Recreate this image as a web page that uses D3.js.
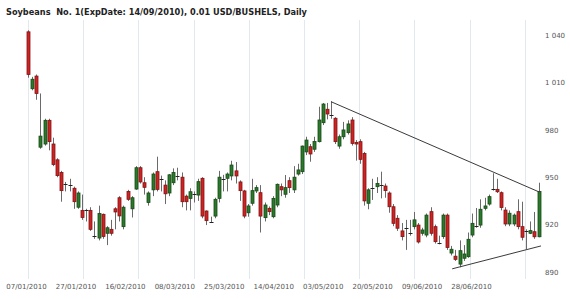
<!DOCTYPE html>
<html>
<head>
<meta charset="utf-8">
<script src="https://cdn.jsdelivr.net/npm/d3@7/dist/d3.min.js"></script>
<style>
  body { margin: 0; background: #fff; }
  svg { display: block; }
  .tick text { font-family: "DejaVu Sans", Verdana, sans-serif; font-size: 7px; fill: #555; }
</style>
</head>
<body>
<div id="chart"></div>
<script>
// daily bars, one value per trading day (07/01/2010 ... early 07/2010)
var openVals = [1042,1006,1014,969,971,986,971,961,953,946,945.5,943,931,929,929.5,929,913.5,911.5,926.5,914.5,
  917,930,937,918.7,941,930,942.5,956,946.5,934,942,953.5,949.5,945,940,946.5,951.5,950,938,936.6,
  940,938.7,949.3,928.6,922,925.4,936.6,948.5,949.3,950.8,954,947,941.3,927.5,933.5,941.3,940.2,924.4,930.3,925,
  932.4,944,939.2,947.8,942,952,953.5,966,969.3,967.7,972.5,984.5,993,989.5,987.3,969.7,975.6,978.2,986.2,972,
  972.5,965,933.5,943,944,945,944.4,940,931.3,924,916,917.5,915.3,918.7,919.7,914.5,913.4,928.2,918.7,909,
  912.4,926,902,900,895,898.7,899.7,913.4,919.2,919.7,930.3,933,942.2,942.3,940.2,929.2,920.4,920.4,928.2,918.7,
  915.5,914.5,915.5,912.3];
var highVals = [1043,1013.5,1015,1003,987,987,975,962,954,947,949,944,941,939,930,931,922,932,927,919,
  923,931,938,932,942,938,957,957,950,941,953,963,951,948,952,955.6,956,953,939,943,
  941,949,950,929,925,937,954,951.5,953,960.4,959.6,948,942,933,949,945,945,934,931.5,938,
  946,946,951.4,950,957,958.5,970,975.6,971,975.6,994.6,997,997,998,988,977,985,986,988,973.5,
  974,966,943,949,950,953.5,946,941,933,926,921,923,923,928,921,918,927,931,920,913,
  927,927,906.5,904,910,907,915,927,930.5,936,937,939,952.5,949,941,931,929,927,936,934.5,
  917,922,928,946.5];
var lowVals = [1013,1005,999,968,970,967,957,950,934.5,941,941,930,930,923,922,916,911,910,911,907,
  913,917,922,917,935,924.5,942,946,939,932,938,941,941,933,938,945,948,931,929,929,
  934,935,924,919.7,921,924,934,941,941,948,946,935,924,925,932,940,915,922,926,924,
  931,938,937,940,940,951,952,964,959.8,966,972,983,986.6,987,971,968,974,977,970,960.5,
  958.5,932,929.7,935.6,940,936.6,937,927.5,919,916,910,904,913,917,908,913,912,913,908,907.5,
  911,904,900.5,897,893,897,899,912,918,918,929,932,941.5,940,929,919,919,919,917,910,
  904.4,914,911,912];
var closeVals = [1015,1012,1003,976,986,972.5,958,951,941.5,945.5,945,934.5,940,924.5,929,917,913,927,912.5,918,
  914.5,928,925.5,931,936,937,956,947,943.6,940,952,942.3,949,939.5,951.5,953,951,934.5,934.5,940.8,
  939.5,947.2,925.4,922.5,921.8,936,950,949,952,957.7,950.8,941.5,925.4,931.8,941.5,943.4,925.4,932.4,928.2,936.6,
  945.5,942,943.4,943.4,950,954.6,969.7,973.5,964.7,972.6,986.2,996.3,990,989.3,972.5,975.6,979.9,983.7,971.4,971,
  961.3,935,942,943.2,946,945.3,941.5,931.3,920.8,917.7,912.4,917.8,915,923,909,916.6,926,914.5,909.2,908.5,
  926,905.5,904.4,898,903.5,901.4,910.7,920.8,919,929.7,931.8,937.7,942.4,940.8,930.8,920.4,927.2,926,918.7,912,
  916,916.2,912.3,941];

var dateLabels = ["07/01/2010","27/01/2010","16/02/2010","08/03/2010","25/03/2010",
                  "14/04/2010","03/05/2010","20/05/2010","09/06/2010","28/06/2010"];
var priceTicks = [890, 920, 950, 980, 1010, 1040];

// trend lines as [bar index, price]
var upperTrend = [[73, 997.8], [123.2, 940.6]];
var lowerTrend = [[102.2, 892], [123.6, 906.5]];

var titleText = "Soybeans  No. 1(ExpDate: 14/09/2010), 0.01 USD/BUSHELS, Daily";

var width = 570, height = 299;
var bars = openVals.map(function(o, i) {
  return {i: i, o: o, h: highVals[i], l: lowVals[i], c: closeVals[i]};
});

var svg = d3.select("#chart").append("svg")
    .attr("width", width)
    .attr("height", height);

var x = d3.scaleLinear().domain([0, bars.length - 1]).range([28, 538.5]);
var y = d3.scaleLinear().domain([890, 1040]).range([272, 35]);

// vertical grid lines every ~13 bars
svg.append("g").selectAll("line")
    .data(d3.range(10))
    .enter().append("line")
    .attr("x1", function(k) { return Math.round(x(k * 13.3)) + 0.5; })
    .attr("x2", function(k) { return Math.round(x(k * 13.3)) + 0.5; })
    .attr("y1", 20)
    .attr("y2", 279)
    .attr("stroke", "#e1e9ef")
    .attr("stroke-width", 1);

svg.append("text")
    .attr("x", 6)
    .attr("y", 15)
    .style("font-family", "'DejaVu Sans', Verdana, sans-serif")
    .style("font-weight", "bold")
    .style("font-size", "8.2px")
    .style("white-space", "pre")
    .attr("fill", "#222")
    .text(titleText);

var fmt = d3.formatLocale({decimal: ".", thousands: " ", grouping: [3], currency: ["", ""]}).format(",");

var gy = svg.append("g")
    .attr("transform", "translate(545,0)")
    .call(d3.axisRight(y).tickValues(priceTicks).tickFormat(fmt).tickSize(0).tickPadding(0));
gy.select(".domain").remove();

var xl = d3.scalePoint().domain(dateLabels).range([26, 471]);
var gx = svg.append("g")
    .attr("transform", "translate(0,284)")
    .call(d3.axisBottom(xl).tickSize(0).tickPadding(0));
gx.select(".domain").remove();

// wicks
svg.append("g").selectAll("line")
    .data(bars)
    .enter().append("line")
    .attr("x1", function(d) { return Math.round(x(d.i)) + 0.5; })
    .attr("x2", function(d) { return Math.round(x(d.i)) + 0.5; })
    .attr("y1", function(d) { return y(d.h); })
    .attr("y2", function(d) { return y(d.l); })
    .attr("stroke", "#6a6a6a")
    .attr("stroke-width", 1);

// bodies
var bodyW = 3;
svg.append("g").selectAll("rect")
    .data(bars.filter(function(d) { return Math.abs(d.c - d.o) >= 0.6; }))
    .enter().append("rect")
    .attr("x", function(d) { return Math.round(x(d.i)) - bodyW / 2 + 0.5; })
    .attr("y", function(d) { return y(Math.max(d.o, d.c)); })
    .attr("width", bodyW)
    .attr("height", function(d) { return Math.max(1, y(Math.min(d.o, d.c)) - y(Math.max(d.o, d.c))); })
    .attr("fill", function(d) { return d.c > d.o ? "#2b7a2b" : "#d02222"; })
    .attr("stroke", function(d) { return d.c > d.o ? "#174817" : "#7d1414"; })
    .attr("stroke-width", 0.8);

// doji ticks
svg.append("g").selectAll("line")
    .data(bars.filter(function(d) { return Math.abs(d.c - d.o) < 0.6; }))
    .enter().append("line")
    .attr("x1", function(d) { return Math.round(x(d.i)) - 1.5; })
    .attr("x2", function(d) { return Math.round(x(d.i)) + 2.5; })
    .attr("y1", function(d) { return Math.round(y(d.c)) + 0.5; })
    .attr("y2", function(d) { return Math.round(y(d.c)) + 0.5; })
    .attr("stroke", "#222")
    .attr("stroke-width", 1);

// trend lines
var line = d3.line()
    .x(function(d) { return x(d[0]); })
    .y(function(d) { return y(d[1]); });

[upperTrend, lowerTrend].forEach(function(t) {
  svg.append("path")
      .attr("d", line(t))
      .attr("fill", "none")
      .attr("stroke", "#3a3a3a")
      .attr("stroke-width", 1);
});
</script>
</body>
</html>
